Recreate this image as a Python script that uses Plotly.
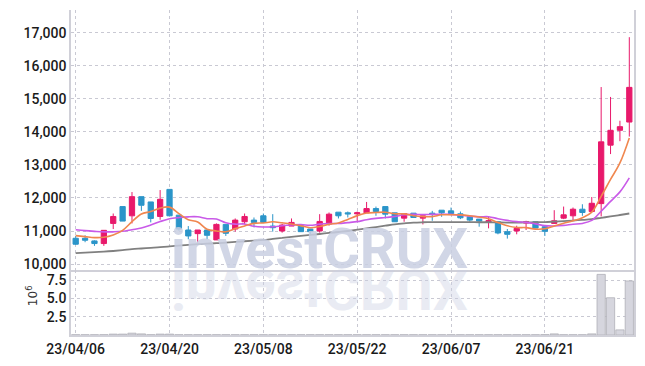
import plotly.graph_objects as go
from plotly.subplots import make_subplots

dates = ["23/04/06", "23/04/07", "23/04/10", "23/04/11", "23/04/12", "23/04/13", "23/04/14", "23/04/17", "23/04/18", "23/04/19",
         "23/04/20", "23/04/21", "23/04/24", "23/04/25", "23/04/26", "23/04/27", "23/04/28", "23/05/02", "23/05/03", "23/05/04",
         "23/05/08", "23/05/09", "23/05/10", "23/05/11", "23/05/12", "23/05/15", "23/05/16", "23/05/17", "23/05/18", "23/05/19",
         "23/05/22", "23/05/23", "23/05/24", "23/05/25", "23/05/26", "23/05/30", "23/05/31", "23/06/01", "23/06/02", "23/06/05",
         "23/06/07", "23/06/08", "23/06/09", "23/06/12", "23/06/13", "23/06/14", "23/06/15", "23/06/16", "23/06/19", "23/06/20",
         "23/06/21", "23/06/22", "23/06/23", "23/06/26", "23/06/27", "23/06/28", "23/06/29", "23/06/30", "23/07/03", "23/07/04"]

open_ = [10780, 10780, 10700, 10620, 11230, 11740, 11460, 12040, 11880, 11440,
         12260, 11480, 11030, 10920, 11030, 10730, 11200, 11060, 11280, 11330,
         11460, 11150, 11000, 11150, 11160, 11060, 11000, 11210, 11570, 11550,
         11520, 11550, 11680, 11740, 11550, 11390, 11540, 11390, 11540, 11630,
         11610, 11520, 11430, 11360, 11280, 11280, 10980, 11000, 11240, 11280,
         11130, 11230, 11390, 11460, 11660, 11590, 11830, 13600, 14050, 14300]
high = [10850, 10870, 10720, 11030, 11530, 11740, 12180, 12040, 11880, 12240,
        12260, 11480, 11150, 11030, 11030, 11230, 11200, 11380, 11530, 11410,
        11530, 11510, 11220, 11380, 11160, 11060, 11510, 11560, 11570, 11590,
        11590, 11880, 11740, 11740, 11550, 11530, 11540, 11460, 11610, 11630,
        11710, 11590, 11430, 11360, 11430, 11280, 11060, 11160, 11310, 11280,
        11130, 11630, 11740, 11710, 11810, 12030, 15360, 15060, 14340, 16870]
low = [10580, 10660, 10550, 10550, 11060, 11300, 11230, 11610, 11260, 11340,
       11460, 11010, 10750, 10650, 10750, 10730, 10850, 10980, 11200, 11110,
       11260, 10980, 10950, 11150, 10980, 10870, 10950, 11160, 11380, 11410,
       11310, 11550, 11460, 11380, 11280, 11280, 11410, 11200, 11310, 11430,
       11480, 11360, 11280, 11130, 11080, 10900, 10770, 10900, 11030, 11090,
       10850, 11230, 11360, 11330, 11460, 11590, 11440, 13330, 13720, 13860]
close = [10600, 10720, 10620, 11020, 11440, 11300, 12040, 11780, 11380, 11960,
         11460, 11060, 10850, 11030, 10870, 11200, 10930, 11330, 11440, 11260,
         11260, 11100, 11180, 11260, 10980, 10980, 11290, 11510, 11460, 11520,
         11550, 11680, 11590, 11510, 11280, 11530, 11410, 11460, 11500, 11550,
         11530, 11400, 11330, 11300, 11310, 10940, 10900, 11080, 11280, 11090,
         10990, 11310, 11490, 11660, 11560, 11840, 13700, 14050, 14160, 15350]

ma5 = [10860, 10830, 10800, 10810, 10880, 11020, 11284, 11516, 11588, 11692,
       11724, 11528, 11342, 11272, 11054, 11002, 10976, 11072, 11154, 11232,
       11244, 11278, 11248, 11212, 11156, 11100, 11138, 11204, 11244, 11352,
       11466, 11544, 11560, 11570, 11522, 11518, 11464, 11438, 11436, 11490,
       11490, 11488, 11462, 11422, 11374, 11256, 11156, 11106, 11102, 11058,
       11068, 11150, 11232, 11308, 11402, 11572, 12050, 12562, 13062, 13820]
ma10 = [11040, 11010, 10990, 10975, 10975, 10990, 11040, 11090, 11180, 11286,
        11372, 11406, 11429, 11430, 11373, 11363, 11252, 11207, 11213, 11143,
        11123, 11127, 11160, 11183, 11194, 11172, 11208, 11226, 11228, 11254,
        11283, 11341, 11382, 11407, 11437, 11492, 11504, 11499, 11503, 11506,
        11504, 11476, 11450, 11429, 11432, 11373, 11322, 11284, 11262, 11216,
        11162, 11153, 11169, 11205, 11230, 11320, 11600, 11897, 12185, 12611]
ma60 = [10330, 10345, 10360, 10375, 10395, 10420, 10450, 10470, 10490, 10510,
        10535, 10560, 10580, 10600, 10615, 10630, 10650, 10670, 10690, 10710,
        10730, 10760, 10790, 10820, 10850, 10880, 10910, 10940, 10970, 11000,
        11040, 11080, 11120, 11160, 11200, 11230, 11255, 11265, 11270, 11270,
        11270, 11270, 11270, 11265, 11265, 11260, 11255, 11255, 11260, 11265,
        11270, 11285, 11300, 11315, 11335, 11360, 11400, 11440, 11485, 11530]

volume = [0.03, 0.03, 0.03, 0.04, 0.12, 0.12, 0.25, 0.15, 0.04, 0.12,
          0.12, 0.03, 0.03, 0.03, 0.03, 0.03, 0.03, 0.03, 0.03, 0.03,
          0.03, 0.03, 0.03, 0.03, 0.03, 0.03, 0.03, 0.03, 0.03, 0.03,
          0.03, 0.03, 0.03, 0.03, 0.03, 0.03, 0.03, 0.03, 0.03, 0.03,
          0.03, 0.03, 0.03, 0.03, 0.03, 0.03, 0.03, 0.03, 0.03, 0.03,
          0.05, 0.15, 0.03, 0.03, 0.03, 0.15, 8.3, 5.1, 0.7, 7.4]

tick_dates = ["23/04/06", "23/04/20", "23/05/08", "23/05/22", "23/06/07", "23/06/21"]
price_ticks = [10000, 11000, 12000, 13000, 14000, 15000, 16000, 17000]
vol_ticks = [2.5, 5.0, 7.5]

UP = "#e8196b"
DOWN = "#2b95c9"
GRID = "#c9c9d3"
AXIS = "#d0d0d8"
FONT = "Roboto"
TICKFONT = dict(family=FONT, size=14, color="#1a1a1a", weight=500)

fig = make_subplots(rows=2, cols=1, shared_xaxes=True, vertical_spacing=0.0,
                    row_heights=[0.8, 0.2])

fig.add_trace(go.Scatter(x=dates, y=ma60, mode="lines", line=dict(color="#808080", width=1.8, shape="spline"),
                         hoverinfo="skip", showlegend=False), row=1, col=1)
fig.add_trace(go.Scatter(x=dates, y=ma10, mode="lines", line=dict(color="#c95ae8", width=1.6, shape="spline"),
                         hoverinfo="skip", showlegend=False), row=1, col=1)
fig.add_trace(go.Scatter(x=dates, y=ma5, mode="lines", line=dict(color="#f0874f", width=1.6, shape="spline"),
                         hoverinfo="skip", showlegend=False), row=1, col=1)
fig.add_trace(go.Candlestick(x=dates, open=open_, high=high, low=low, close=close,
                             increasing=dict(line=dict(color=UP, width=1), fillcolor=UP),
                             decreasing=dict(line=dict(color=DOWN, width=1), fillcolor=DOWN),
                             whiskerwidth=0, showlegend=False), row=1, col=1)
fig.add_trace(go.Bar(x=dates, y=volume, marker=dict(color="#d6d6de", line=dict(color="#b0b0b8", width=0.8)),
                     showlegend=False), row=2, col=1)

fig.update_xaxes(type="category", range=[-0.5, 59.5], tickmode="array", tickvals=tick_dates,
                 showgrid=True, gridcolor=GRID, griddash="dot", gridwidth=1,
                 showline=True, linecolor=AXIS, linewidth=1.5, ticks="",
                 rangeslider=dict(visible=False))
fig.update_xaxes(showticklabels=False, row=1, col=1)
fig.update_xaxes(showticklabels=True, tickfont=TICKFONT, row=2, col=1)

fig.update_yaxes(range=[9819, 17693], tickvals=price_ticks, tickformat=",d",
                 showgrid=True, gridcolor=GRID, griddash="dot", gridwidth=1,
                 showline=True, mirror=True, linecolor=AXIS, linewidth=1.5, ticks="",
                 zeroline=False, tickfont=TICKFONT, row=1, col=1)
fig.update_yaxes(range=[0, 8.9], tickvals=vol_ticks, tickformat=".1f",
                 showgrid=True, gridcolor=GRID, griddash="dot", gridwidth=1,
                 showline=True, mirror=True, linecolor=AXIS, linewidth=1.5, ticks="",
                 zeroline=False, tickfont=TICKFONT, row=2, col=1)

WM_FONT = dict(family="Roboto", size=56, color="#c9cfe2", weight=700)

fig.update_layout(
    width=645, height=366,
    margin=dict(l=71, r=9, t=10, b=29),
    paper_bgcolor="white", plot_bgcolor="white",
    bargap=0.12,
    boxgap=0.2,
    showlegend=False,
    annotations=[
        dict(text="investCRUX", xref="paper", yref="paper", x=0.4416, y=0.156,
             xanchor="center", yanchor="bottom", showarrow=False,
             font=WM_FONT, opacity=0.85),
        dict(text="investCRUX", xref="paper", yref="paper", x=0.4416, y=0.035,
             xanchor="center", yanchor="bottom", showarrow=False,
             font=WM_FONT, opacity=0.4),
        dict(text="10<sup>6</sup>", xref="paper", yref="paper", x=-0.069, y=0.12,
             xanchor="center", yanchor="middle", showarrow=False, textangle=-90,
             font=dict(family="DejaVu Sans", size=12, color="#333")),
    ],
)

post = """
document.body.style.margin = '0';
var gd = document.getElementById('{plot_id}');
function flipRefl(){
  var anns = gd.querySelectorAll('g.annotation');
  anns.forEach(function(a){
    if (a.getAttribute('data-index') === '1') {
      var t = a.querySelector('text');
      if (!t) return;
      var b = t.getBBox();
      var cy = b.y + b.height / 2;
      t.setAttribute('transform', 'matrix(1,0,0,-1,0,' + (2 * cy) + ')');
    }
  });
}
flipRefl();
gd.on('plotly_afterplot', flipRefl);
setTimeout(flipRefl, 200);
"""

fig.write_html("out.html", post_script=post, config={"displayModeBar": False})
